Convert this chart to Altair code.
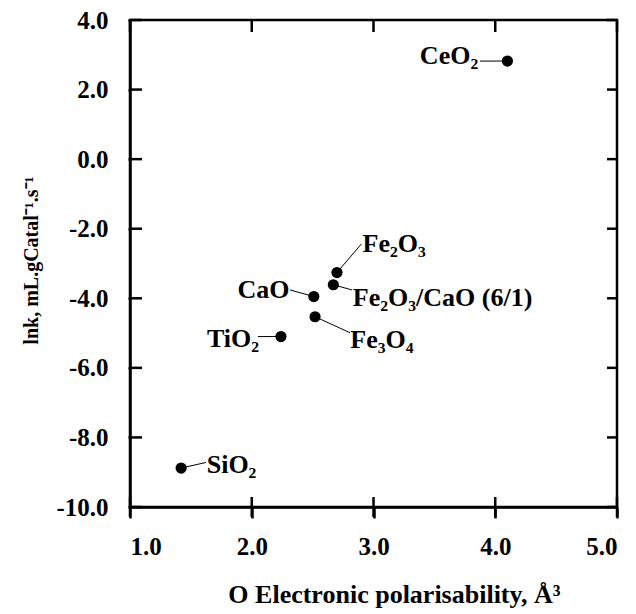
import altair as alt
import pandas as pd

# ---- data ----
names = ["CeO₂", "Fe₂O₃", "Fe₂O₃/CaO (6/1)", "CaO", "Fe₃O₄", "TiO₂", "SiO₂"]
polarisability = [4.10, 2.70, 2.67, 2.51, 2.52, 2.24, 1.42]
lnk = [2.82, -3.26, -3.61, -3.95, -4.53, -5.10, -8.88]

# annotation anchors (data units)
leader_x = [3.875, 2.90, 2.823, 2.314, 2.807, 2.05, 1.624]
leader_y = [2.82, -2.44, -3.76, -3.76, -4.99, -5.10, -8.72]
text_x = [3.86, 2.91, 2.83, 2.31, 2.81, 2.06, 1.63]
text_y = [2.97, -2.44, -3.99, -3.76, -5.195, -5.17, -8.80]
text_side = ["right", "left", "left", "right", "left", "right", "left"]

x_ticks = [1, 2, 3, 4, 5]
y_ticks = [-10, -8, -6, -4, -2, 0, 2, 4]
x_min, x_max = 1, 5
y_min, y_max = -10, 4

df = pd.DataFrame({
    "name": names, "x": polarisability, "y": lnk,
    "lx": leader_x, "ly": leader_y, "tx": text_x, "ty": text_y,
    "side": text_side,
})
xt = pd.DataFrame({"xv": x_ticks, "ylo": y_min, "yhi": y_max})
yt = pd.DataFrame({"yv": y_ticks, "xlo": x_min, "xhi": x_max})

W, H = 487, 487
FONT = "Liberation Serif"
xs = alt.Scale(domain=[x_min, x_max], nice=False, zero=False)
ys = alt.Scale(domain=[y_min, y_max], nice=False, zero=False)
lab_expr = "(datum.value < 0 ? '-' : '') + format(abs(datum.value), '.1f')"

common = dict(grid=False, domainColor="black", tickColor="black",
              domainWidth=2.5, tickWidth=2.5)

ax_x = alt.Axis(orient="bottom", values=x_ticks, labelExpr=lab_expr,
                tickSize=11, labelPadding=16, labelFont=FONT,
                labelFontSize=25, labelFontWeight="bold", labelColor="black",
                title="O Electronic polarisability, Å³", titleFont=FONT,
                titleFontSize=26, titleFontWeight="bold", titleColor="black",
                titleX=264, titleY=95, titleBaseline="alphabetic",
                titleAlign="center", **common)
ax_y = alt.Axis(orient="left", values=y_ticks, labelExpr=lab_expr,
                tickSize=2, labelPadding=20, labelFont=FONT,
                labelFontSize=25, labelFontWeight="bold", labelColor="black",
                title="lnk, mL.gCatal⁻¹.s⁻¹", titleFont=FONT,
                titleFontSize=20, titleFontWeight="bold", titleColor="black",
                titleX=-99, titleY=240, titleBaseline="middle",
                titleAlign="center", titleAngle=270, **common)

# inward tick marks on all four sides of the frame
tick_style = dict(color="black", thickness=2.5, opacity=1)
t_bottom = alt.Chart(xt).mark_tick(orient="vertical", size=20, **tick_style).encode(
    x=alt.X("xv:Q", scale=xs, axis=ax_x), y=alt.Y("ylo:Q", scale=ys, axis=ax_y))
t_top = alt.Chart(xt).mark_tick(orient="vertical", size=12, yOffset=6, **tick_style).encode(
    x=alt.X("xv:Q", scale=xs), y=alt.Y("yhi:Q", scale=ys))
t_left = alt.Chart(yt).mark_tick(orient="horizontal", size=12, xOffset=6, **tick_style).encode(
    y=alt.Y("yv:Q", scale=ys), x=alt.X("xlo:Q", scale=xs))
t_right = alt.Chart(yt).mark_tick(orient="horizontal", size=10, xOffset=-5, **tick_style).encode(
    y=alt.Y("yv:Q", scale=ys), x=alt.X("xhi:Q", scale=xs))

points = alt.Chart(df).mark_circle(size=125, color="black", opacity=1).encode(
    x=alt.X("x:Q", scale=xs),
    y=alt.Y("y:Q", scale=ys),
)

rules = alt.Chart(df).mark_rule(color="black", strokeWidth=1).encode(
    x=alt.X("x:Q", scale=xs),
    y=alt.Y("y:Q", scale=ys),
    x2="lx:Q", y2="ly:Q",
)

text_l = alt.Chart(df).transform_filter("datum.side == 'left'").mark_text(
    align="left", baseline="middle", font=FONT, fontSize=26,
    fontWeight="bold", color="black",
).encode(
    x=alt.X("tx:Q", scale=xs),
    y=alt.Y("ty:Q", scale=ys),
    text="name:N",
)

text_r = alt.Chart(df).transform_filter("datum.side == 'right'").mark_text(
    align="right", baseline="middle", font=FONT, fontSize=26,
    fontWeight="bold", color="black",
).encode(
    x=alt.X("tx:Q", scale=xs),
    y=alt.Y("ty:Q", scale=ys),
    text="name:N",
)

chart = alt.layer(
    t_bottom, t_top, t_left, t_right, rules, points, text_l, text_r
).properties(
    width=W, height=H,
    autosize=alt.AutoSizeParams(type="none"),
    padding={"left": 130, "top": 20, "right": 19, "bottom": 107},
    background="white",
).configure_view(stroke="black", strokeWidth=2.5)

chart.save("out.html", embed_options={"renderer": "svg", "actions": False})
